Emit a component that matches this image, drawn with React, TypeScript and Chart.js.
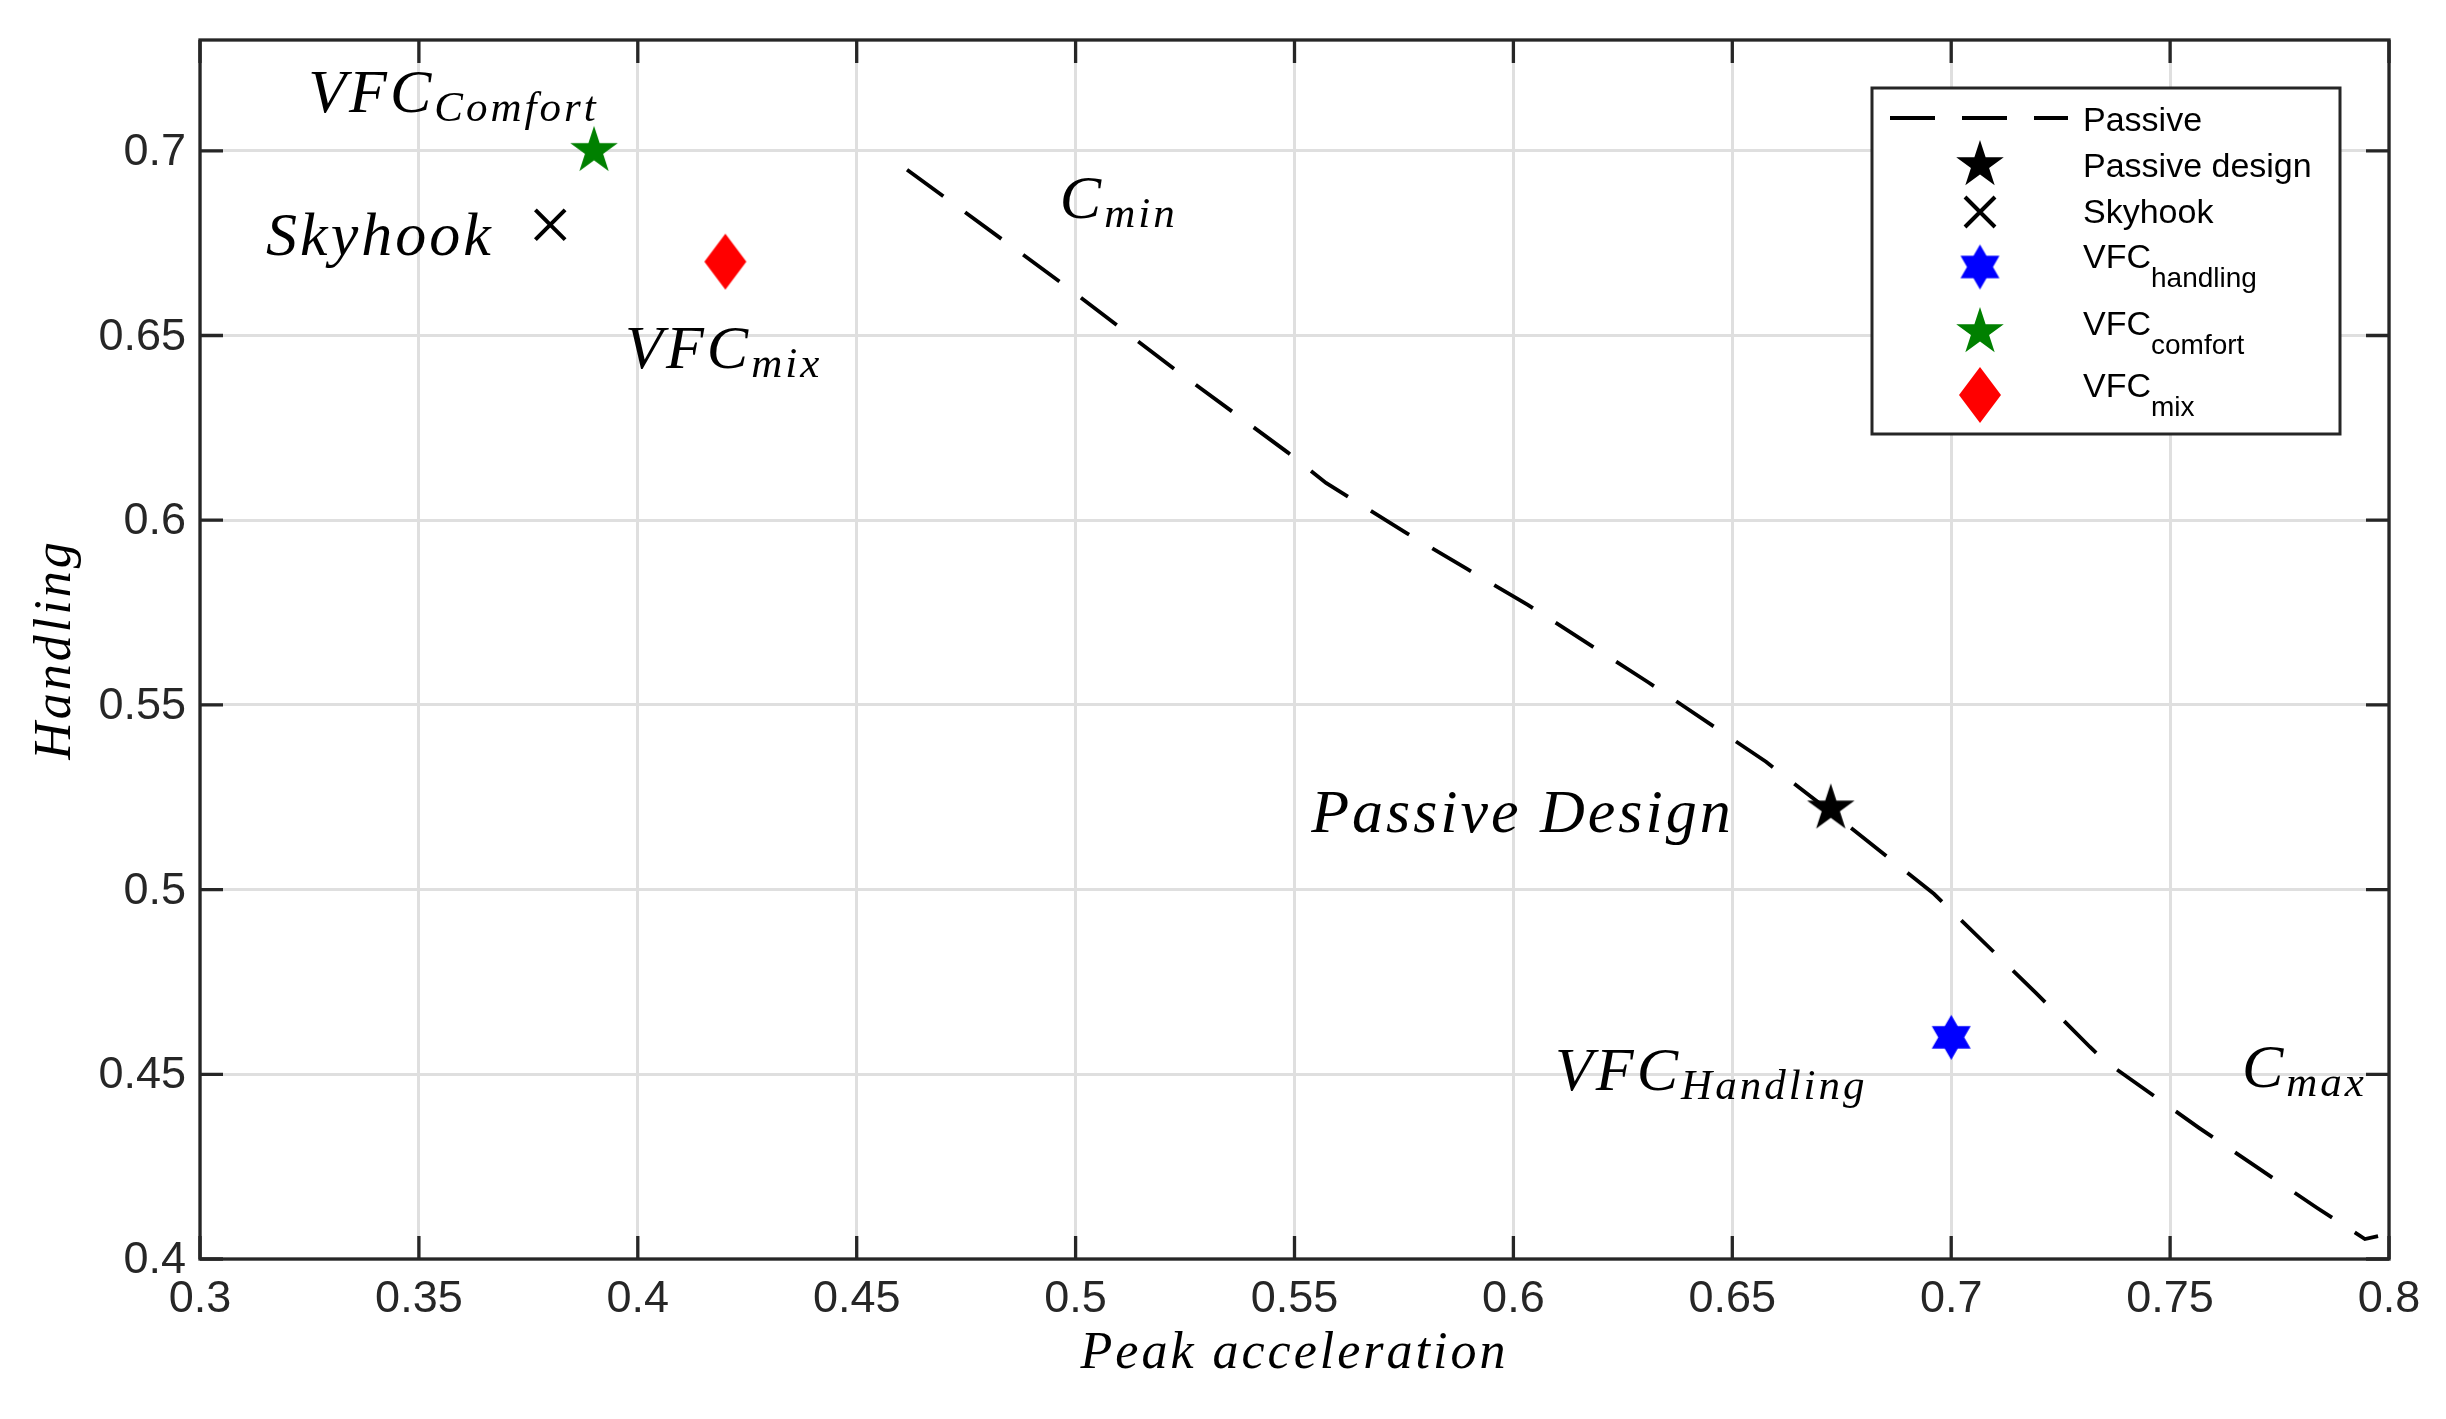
import { useEffect, useRef } from 'react';
import { Chart, registerables } from 'chart.js';

Chart.register(...registerables);

// passive damper sweep, C_min (top left) to C_max (bottom right)
const PASSIVE_X = [0.4615, 0.4967, 0.5225, 0.5485, 0.5572, 0.5755, 0.5894, 0.6033, 0.6307, 0.6577, 0.6748, 0.6961, 0.7194, 0.7317, 0.7351, 0.7566, 0.7836, 0.7945, 0.7975];
const PASSIVE_Y = [0.6949, 0.6643, 0.641, 0.6183, 0.6101, 0.5966, 0.5868, 0.5771, 0.5562, 0.5346, 0.5189, 0.4988, 0.472, 0.4574, 0.4536, 0.4355, 0.4138, 0.4054, 0.4062];

// single-point results
const MARKER_NAMES = ['Passive design', 'Skyhook', 'VFC handling', 'VFC comfort', 'VFC mix'];
const MARKER_X = [0.6725, 0.38, 0.7, 0.39, 0.42];
const MARKER_Y = [0.522, 0.68, 0.46, 0.7, 0.67];

const X_TICKS = [0.3, 0.35, 0.4, 0.45, 0.5, 0.55, 0.6, 0.65, 0.7, 0.75, 0.8];
const X_TICK_LABELS = ['0.3', '0.35', '0.4', '0.45', '0.5', '0.55', '0.6', '0.65', '0.7', '0.75', '0.8'];
const Y_TICKS = [0.4, 0.45, 0.5, 0.55, 0.6, 0.65, 0.7];
const Y_TICK_LABELS = ['0.4', '0.45', '0.5', '0.55', '0.6', '0.65', '0.7'];

const LEGEND_MAIN = ['Passive', 'Passive design', 'Skyhook', 'VFC', 'VFC', 'VFC'];
const LEGEND_SUB = ['', '', '', 'handling', 'comfort', 'mix'];

// text labels in the plot (left / baseline, data units)
const NOTE_MAIN = ['VFC', 'Skyhook', 'VFC', 'C', 'Passive Design', 'VFC', 'C'];
const NOTE_SUB = ['Comfort', '', 'mix', 'min', '', 'Handling', 'max'];
const NOTE_X = [0.3247, 0.3151, 0.3971, 0.4964, 0.5538, 0.6095, 0.7664];
const NOTE_Y = [0.7106, 0.6719, 0.6413, 0.6819, 0.5156, 0.4458, 0.4466];

const AXIS_COLOR = '#262626';
const MATH_FONT = '"Liberation Serif", "DejaVu Serif", serif';
const SANS_FONT = '"Liberation Sans", Arial, sans-serif';

function starCanvas(points: number, outer: number, inner: number, color: string) {
    const size = Math.ceil(outer * 2 + 4);
    const c = document.createElement('canvas');
    c.width = size;
    c.height = size;
    const g = c.getContext('2d')!;
    g.translate(size / 2, size / 2);
    g.beginPath();
    for (let i = 0; i < points * 2; i++) {
        const r = i % 2 === 0 ? outer : inner;
        const a = -Math.PI / 2 + (i * Math.PI) / points;
        if (i === 0) g.moveTo(r * Math.cos(a), r * Math.sin(a));
        else g.lineTo(r * Math.cos(a), r * Math.sin(a));
    }
    g.closePath();
    g.fillStyle = color;
    g.fill();
    return c;
}

function diamondCanvas(hw: number, hh: number, color: string) {
    const c = document.createElement('canvas');
    c.width = Math.ceil(hw * 2 + 4);
    c.height = Math.ceil(hh * 2 + 4);
    const g = c.getContext('2d')!;
    g.translate(c.width / 2, c.height / 2);
    g.beginPath();
    g.moveTo(0, -hh);
    g.lineTo(hw, 0);
    g.lineTo(0, hh);
    g.lineTo(-hw, 0);
    g.closePath();
    g.fillStyle = color;
    g.fill();
    return c;
}

function drawMath(ctx: CanvasRenderingContext2D, main: string, sub: string, x: number, y: number) {
    ctx.font = `italic 62px ${MATH_FONT}`;
    (ctx as any).letterSpacing = '3px';
    ctx.textAlign = 'left';
    ctx.textBaseline = 'alphabetic';
    ctx.fillStyle = '#000';
    ctx.fillText(main, x, y);
    if (sub) {
        const w = ctx.measureText(main).width;
        ctx.font = `italic 43px ${MATH_FONT}`;
        ctx.fillText(sub, x + w, y + 9);
    }
    (ctx as any).letterSpacing = '0px';
}

const decorPlugin = {
    id: 'decor',
    afterDraw(chart: any) {
        const { ctx, chartArea: a, scales } = chart;
        const xs = scales.x;
        const ys = scales.y;
        ctx.save();

        // box + inward ticks
        ctx.strokeStyle = AXIS_COLOR;
        ctx.lineWidth = 3.3;
        ctx.strokeRect(a.left, a.top, a.right - a.left, a.bottom - a.top);
        ctx.beginPath();
        X_TICKS.forEach((v) => {
            const px = xs.getPixelForValue(v);
            ctx.moveTo(px, a.bottom);
            ctx.lineTo(px, a.bottom - 23);
            ctx.moveTo(px, a.top);
            ctx.lineTo(px, a.top + 23);
        });
        Y_TICKS.forEach((v) => {
            const py = ys.getPixelForValue(v);
            ctx.moveTo(a.left, py);
            ctx.lineTo(a.left + 23, py);
            ctx.moveTo(a.right, py);
            ctx.lineTo(a.right - 23, py);
        });
        ctx.stroke();

        // tick labels
        ctx.fillStyle = AXIS_COLOR;
        ctx.font = `45px ${SANS_FONT}`;
        ctx.textBaseline = 'alphabetic';
        ctx.textAlign = 'center';
        X_TICKS.forEach((v, i) => ctx.fillText(X_TICK_LABELS[i], xs.getPixelForValue(v), a.bottom + 53));
        ctx.textAlign = 'right';
        Y_TICKS.forEach((v, i) => ctx.fillText(Y_TICK_LABELS[i], a.left - 14, ys.getPixelForValue(v) + 14));

        // axis titles
        ctx.fillStyle = '#000';
        ctx.font = `italic 52px ${MATH_FONT}`;
        (ctx as any).letterSpacing = '3px';
        ctx.textAlign = 'center';
        ctx.fillText('Peak acceleration', (a.left + a.right) / 2, a.bottom + 109);
        ctx.save();
        ctx.translate(a.left - 130, (a.top + a.bottom) / 2);
        ctx.rotate(-Math.PI / 2);
        ctx.fillText('Handling', 0, 0);
        ctx.restore();
        (ctx as any).letterSpacing = '0px';

        // annotations
        NOTE_MAIN.forEach((m, i) => {
            drawMath(ctx, m, NOTE_SUB[i], xs.getPixelForValue(NOTE_X[i]), ys.getPixelForValue(NOTE_Y[i]));
        });

        // legend
        const lx = 1872, ly = 88, lw = 468, lh = 346;
        ctx.fillStyle = '#fff';
        ctx.fillRect(lx, ly, lw, lh);
        ctx.strokeStyle = AXIS_COLOR;
        ctx.lineWidth = 3;
        ctx.strokeRect(lx, ly, lw, lh);

        const rowText = [131, 177, 223, 268, 335, 397];
        const rowMark = [118, 165, 212, 267, 332, 395];
        const mx = 1980;
        const datasets = chart.data.datasets;

        ctx.strokeStyle = '#000';
        ctx.lineWidth = 3.8;
        ctx.setLineDash(datasets[0].borderDash);
        ctx.beginPath();
        ctx.moveTo(1890, rowMark[0]);
        ctx.lineTo(2068, rowMark[0]);
        ctx.stroke();
        ctx.setLineDash([]);

        for (let i = 1; i < datasets.length; i++) {
            const ds = datasets[i];
            const y = rowMark[i];
            if (typeof ds.pointStyle === 'object') {
                const img = ds.pointStyle as HTMLCanvasElement;
                ctx.drawImage(img, mx - img.width / 2, y - img.height / 2);
            } else {
                const o = 15;
                ctx.lineWidth = ds.pointBorderWidth;
                ctx.strokeStyle = ds.pointBorderColor;
                ctx.beginPath();
                ctx.moveTo(mx - o, y - o);
                ctx.lineTo(mx + o, y + o);
                ctx.moveTo(mx + o, y - o);
                ctx.lineTo(mx - o, y + o);
                ctx.stroke();
            }
        }

        ctx.fillStyle = '#000';
        ctx.textAlign = 'left';
        LEGEND_MAIN.forEach((t, i) => {
            ctx.font = `34px ${SANS_FONT}`;
            ctx.fillText(t, 2083, rowText[i]);
            if (LEGEND_SUB[i]) {
                const w = ctx.measureText(t).width;
                ctx.font = `28px ${SANS_FONT}`;
                ctx.fillText(LEGEND_SUB[i], 2083 + w, rowText[i] + 19);
            }
        });

        ctx.restore();
    },
};

const TradeOffChart: React.FC = () => {
    const chartRef = useRef<HTMLCanvasElement | null>(null);

    useEffect(() => {
        document.body.style.margin = '0';
        document.body.style.overflow = 'hidden';
        const ctx = chartRef.current?.getContext('2d');
        if (!ctx) return;

        const styles: any[] = [
            starCanvas(5, 25, 9.55, '#000000'),
            'crossRot',
            starCanvas(6, 22.5, 13, '#0000ff'),
            starCanvas(5, 25, 9.55, '#008000'),
            diamondCanvas(21, 28, '#ff0000'),
        ];

        const markerSets = MARKER_NAMES.map((name, i) => ({
            label: name,
            data: [{ x: MARKER_X[i], y: MARKER_Y[i] }],
            pointStyle: styles[i],
            pointRadius: 21,
            pointBorderColor: '#000',
            pointBorderWidth: 4,
            pointBackgroundColor: '#000',
            order: 0,
        }));

        const chart = new Chart(ctx, {
            type: 'scatter',
            data: {
                datasets: [
                    {
                        label: 'Passive',
                        data: PASSIVE_X.map((x, i) => ({ x, y: PASSIVE_Y[i] })),
                        showLine: true,
                        borderColor: '#000',
                        borderWidth: 3.8,
                        borderDash: [45, 27],
                        pointRadius: 0,
                        tension: 0,
                        fill: false,
                        order: 10,
                    } as any,
                    ...markerSets,
                ],
            },
            options: {
                animation: false,
                responsive: false,
                events: [],
                layout: { padding: { left: 0, top: 40, right: 57, bottom: 0 } },
                plugins: { legend: { display: false }, tooltip: { enabled: false } },
                scales: {
                    x: {
                        type: 'linear',
                        min: 0.3,
                        max: 0.8,
                        afterBuildTicks: (s: any) => { s.ticks = X_TICKS.map((value) => ({ value })); },
                        afterFit: (s: any) => { s.height = 160; },
                        ticks: { display: false },
                        grid: { color: '#dfdfdf', lineWidth: 3, drawTicks: false },
                        border: { display: false },
                    },
                    y: {
                        type: 'linear',
                        min: 0.4,
                        max: 0.73,
                        afterBuildTicks: (s: any) => { s.ticks = Y_TICKS.map((value) => ({ value })); },
                        afterFit: (s: any) => { s.width = 200; },
                        ticks: { display: false },
                        grid: { color: '#dfdfdf', lineWidth: 3, drawTicks: false },
                        border: { display: false },
                    },
                },
            },
            plugins: [decorPlugin],
        });

        return () => {
            chart.destroy();
        };
    }, []);

    return (
        <div style={{ width: 2446, height: 1419, background: '#fff' }}>
            <canvas ref={chartRef} width="2446" height="1419"></canvas>
        </div>
    );
};

export default TradeOffChart;
